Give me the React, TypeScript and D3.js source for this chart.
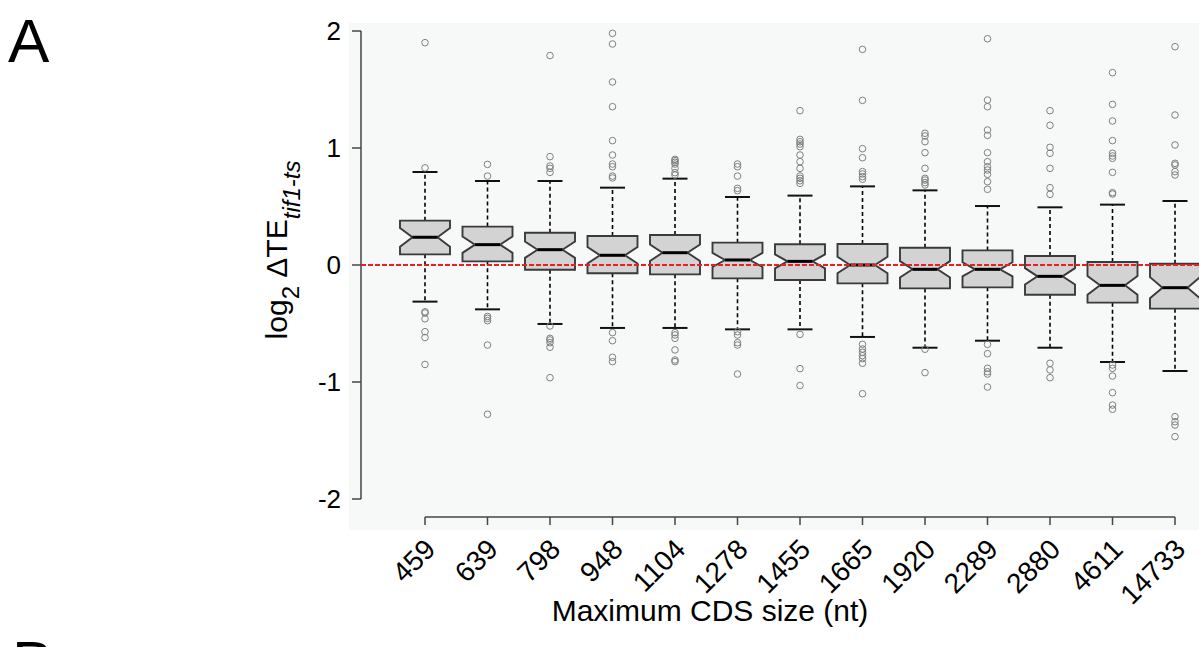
import React from "react";
import * as d3 from "d3";

const categories = ["459", "639", "798", "948", "1104", "1278", "1455", "1665", "1920", "2289", "2880", "4611", "14733"];
const q3s = [0.379, 0.328, 0.276, 0.248, 0.256, 0.191, 0.177, 0.179, 0.148, 0.125, 0.077, 0.026, 0.011];
const medians = [0.237, 0.174, 0.131, 0.083, 0.105, 0.043, 0.031, 0.0, -0.037, -0.037, -0.097, -0.174, -0.194];
const q1s = [0.091, 0.031, -0.04, -0.071, -0.08, -0.114, -0.128, -0.157, -0.2, -0.191, -0.254, -0.322, -0.373];
const notches = [0.08, 0.07, 0.07, 0.07, 0.07, 0.06, 0.06, 0.07, 0.07, 0.06, 0.07, 0.08, 0.09];
const whiskerHigh = [0.795, 0.718, 0.718, 0.661, 0.738, 0.581, 0.593, 0.672, 0.638, 0.504, 0.493, 0.516, 0.547];
const whiskerLow = [-0.313, -0.379, -0.504, -0.538, -0.538, -0.55, -0.55, -0.615, -0.707, -0.647, -0.707, -0.829, -0.906];
const outliers = [
  [1.9, 0.83, -0.4, -0.41, -0.46, -0.57, -0.62, -0.85],
  [0.86, 0.76, -0.44, -0.456, -0.476, -0.684, -1.276],
  [1.79, 0.926, 0.846, 0.826, 0.792, -0.521, -0.627, -0.641, -0.664, -0.703, -0.963],
  [1.98, 1.889, 1.564, 1.353, 1.063, 0.94, 0.863, 0.84, 0.76, 0.744, -0.578, -0.647, -0.789, -0.826],
  [0.903, 0.892, 0.878, 0.863, 0.826, 0.789, 0.769, -0.578, -0.598, -0.627, -0.726, -0.812, -0.826],
  [0.863, 0.84, 0.76, 0.655, 0.635, -0.57, -0.598, -0.664, -0.684, -0.932],
  [1.319, 1.074, 1.054, 1.034, 1.011, 0.94, 0.883, 0.826, 0.761, 0.741, 0.72, 0.698, -0.593, -0.886, -1.03],
  [1.843, 1.407, 0.994, 0.917, 0.798, 0.778, 0.755, 0.733, -0.678, -0.718, -0.746, -0.775, -0.8, -0.84, -1.1],
  [1.126, 1.103, 1.054, 0.96, 0.826, 0.741, 0.726, 0.704, 0.684, -0.72, -0.92],
  [1.934, 1.41, 1.353, 1.154, 1.108, 0.96, 0.883, 0.84, 0.812, 0.775, 0.712, 0.647, -0.678, -0.758, -0.883, -0.912, -0.932, -1.043],
  [1.319, 1.194, 1.006, 0.955, 0.826, 0.661, 0.604, -0.84, -0.897, -0.963],
  [1.644, 1.373, 1.231, 1.063, 0.955, 0.932, 0.912, 0.792, 0.618, 0.607, -0.855, -0.883, -0.949, -1.091, -1.197, -1.233],
  [1.866, 1.282, 1.026, 0.869, 0.855, 0.798, 0.769, -1.296, -1.339, -1.368, -1.467],
];
const yTicks = [-2, -1, 0, 1, 2];

const FONT = "'Liberation Sans', Arial, Helvetica, sans-serif";

export default function App() {
  const x = d3.scalePoint<string>().domain(categories).range([425, 1175]);
  const y = d3.scaleLinear().domain([-2, 2]).range([499, 31]);
  const w = x.step() * 0.8;

  const boxPath = (i: number) => {
    const cx = x(categories[i]) as number;
    const n = notches[i];
    const m = medians[i];
    const pts: [number, number][] = [
      [cx - w / 2, y(q3s[i])],
      [cx + w / 2, y(q3s[i])],
      [cx + w / 2, y(m + n)],
      [cx + w / 4, y(m)],
      [cx + w / 2, y(m - n)],
      [cx + w / 2, y(q1s[i])],
      [cx - w / 2, y(q1s[i])],
      [cx - w / 2, y(m - n)],
      [cx - w / 4, y(m)],
      [cx - w / 2, y(m + n)],
    ];
    return (d3.line()(pts) as string) + "Z";
  };

  return (
    <svg width={1199} height={647} style={{ position: "absolute", left: 0, top: 0, background: "#fff" }} fontFamily={FONT}>
      <rect x={349} y={23} width={850} height={507} fill="#f7f9f9" />
      <text x={8} y={62} fontSize={62} fill="#000">A</text>
      <text x={12} y={684} fontSize={62} fill="#000">B</text>

      {/* y axis */}
      <line x1={361} x2={361} y1={y(2)} y2={y(-2)} stroke="#444" strokeWidth={1.5} />
      {yTicks.map((t) => (
        <g key={t}>
          <line x1={352} x2={361} y1={y(t)} y2={y(t)} stroke="#444" strokeWidth={1.5} />
          <text x={341} y={y(t)} dy="0.36em" textAnchor="end" fontSize={26} fill="#000">{t}</text>
        </g>
      ))}

      {/* y label */}
      <text transform={`translate(287,250) rotate(-90)`} textAnchor="middle" fontSize={30} fill="#000">
        <tspan>log</tspan>
        <tspan fontSize={24} dy={12}>2</tspan>
        <tspan dy={-12}> ΔTE</tspan>
        <tspan fontSize={24} fontStyle="italic" dy={13}>tif1-ts</tspan>
      </text>

      {/* x axis */}
      <line x1={x(categories[0])} x2={x(categories[categories.length - 1])} y1={517} y2={517} stroke="#444" strokeWidth={1.5} />
      {categories.map((c) => (
        <g key={c}>
          <line x1={x(c)} x2={x(c)} y1={517} y2={525} stroke="#444" strokeWidth={1.5} />
          <text
            transform={`translate(${(x(c) as number) + 12},551) rotate(-45)`}
            textAnchor="end"
            fontSize={28}
            fill="#000"
          >
            {c}
          </text>
        </g>
      ))}
      <text x={710} y={621} textAnchor="middle" fontSize={30} fill="#000">Maximum CDS size (nt)</text>

      {/* boxes */}
      {categories.map((c, i) => {
        const cx = x(c) as number;
        return (
          <g key={c}>
            <line x1={cx} x2={cx} y1={y(q3s[i])} y2={y(whiskerHigh[i])} stroke="#000" strokeWidth={1.6} strokeDasharray="4,3" />
            <line x1={cx} x2={cx} y1={y(q1s[i])} y2={y(whiskerLow[i])} stroke="#000" strokeWidth={1.6} strokeDasharray="4,3" />
            <line x1={cx - w / 4} x2={cx + w / 4} y1={y(whiskerHigh[i])} y2={y(whiskerHigh[i])} stroke="#111" strokeWidth={2} />
            <line x1={cx - w / 4} x2={cx + w / 4} y1={y(whiskerLow[i])} y2={y(whiskerLow[i])} stroke="#111" strokeWidth={2} />
            <path d={boxPath(i)} fill="#d3d3d3" stroke="#3a3a3a" strokeWidth={1.9} />
            <line x1={cx - w / 4} x2={cx + w / 4} y1={y(medians[i])} y2={y(medians[i])} stroke="#000" strokeWidth={3} />
            {outliers[i].map((v, j) => (
              <circle key={j} cx={cx} cy={y(v)} r={3.3} fill="none" stroke="#808080" strokeWidth={1} />
            ))}
          </g>
        );
      })}

      {/* reference line */}
      <line x1={361} x2={1199} y1={y(0)} y2={y(0)} stroke="#ee1c25" strokeWidth={2} strokeDasharray="5,2" />
    </svg>
  );
}
